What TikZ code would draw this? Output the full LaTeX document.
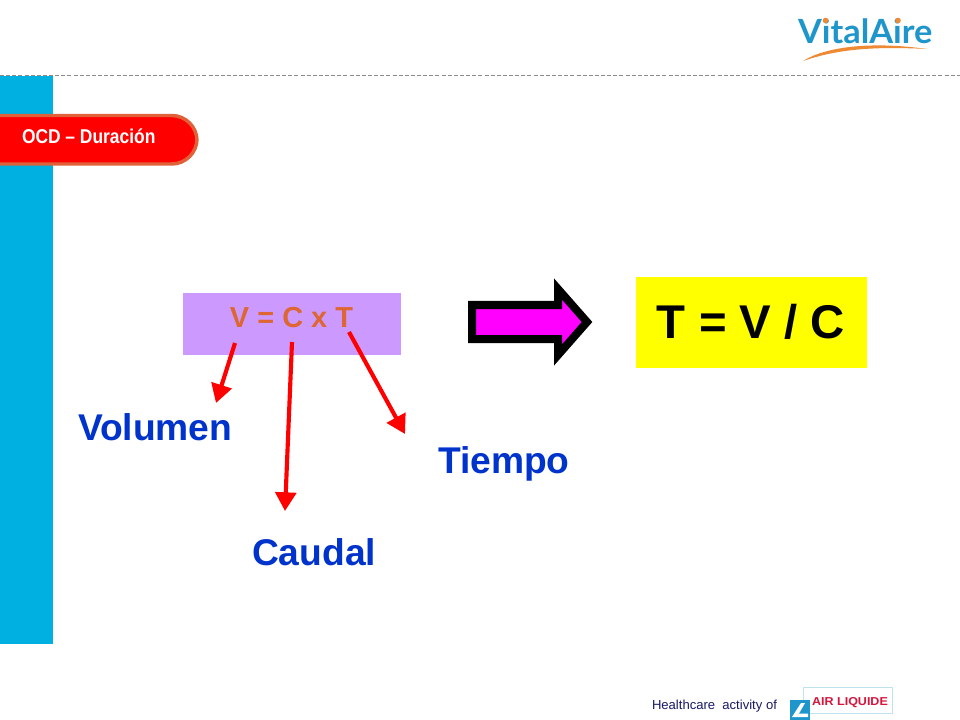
\documentclass[tikz,border=0pt]{standalone}
\usepackage{fontspec}
\setmainfont{Liberation Sans}
\newfontfamily\logofont{Lato}
\usetikzlibrary{arrows.meta}
\definecolor{band}{HTML}{00B0E0}
\definecolor{pillborder}{HTML}{E0603A}
\definecolor{lilac}{HTML}{CC99FF}
\definecolor{formula}{HTML}{DD6633}
\definecolor{labelblue}{HTML}{0033CC}
\definecolor{logoblue}{HTML}{1E96CC}
\definecolor{logoorange}{HTML}{EE8A33}
\definecolor{aircrimson}{HTML}{D4163C}
\definecolor{navytext}{HTML}{1A1A66}
\definecolor{pureyellow}{HTML}{FFFF00}
\definecolor{puremagenta}{HTML}{FF00FF}
\definecolor{purered}{HTML}{FF0000}
\definecolor{rulegray}{HTML}{8A8A8A}
\definecolor{airborder}{HTML}{BFE3EE}
\tikzset{
  x=0.75pt,y=-0.75pt,
  plain/.style={inner sep=0pt,outer sep=0pt},
  term/.style={plain,anchor=base west,text=labelblue,font=\fontsize{27.9pt}{30pt}\selectfont\bfseries},
  redarrow/.style={draw=purered,line width=3.1pt,-{Triangle[length=14pt,width=15.5pt,fill=purered]}},
}
\begin{document}
\begin{tikzpicture}
\useasboundingbox (0,0) rectangle (960,720);
\fill[white] (0,0) rectangle (960,720);
% side band and dashed rule
\fill[band] (0,76) rectangle (53,644);
\draw[rulegray,line width=0.6pt,dash pattern=on 3pt off 1.6pt] (0,75) -- (962,75);
% title pill
\begin{scope}
\clip (0,100) rectangle (220,180);
\draw[draw=pillborder,fill=purered,line width=2.6pt,rounded corners=19pt] (-40,115.5) -- (197,115.5) -- (197,164) -- (-40,164) -- cycle;
\end{scope}
\node[plain,anchor=base west,text=white] (title) at (22,144) {\scalebox{0.87}[1]{\fontsize{15pt}{18pt}\selectfont\bfseries OCD – Duración}};
% formula boxes
\fill[lilac] (183,293) rectangle (401,355);
\node[plain,anchor=base,text=formula,font=\fontsize{21.7pt}{24pt}\selectfont\bfseries] (vct) at (291.5,327) {V = C x T};
\fill[pureyellow] (636,277) rectangle (867,368);
\node[plain,anchor=base,text=black,font=\fontsize{35.5pt}{38pt}\selectfont\bfseries] (tvc) at (751,339) {T = V / C};
% block arrow
\draw[fill=puremagenta,draw=black,line width=6pt,miter limit=10] (472,305) -- (558,305) -- (558,289) -- (587,322) -- (558,355) -- (558,339) -- (472,339) -- cycle;
% terms
\node[term] (volumen) at (78,440) {Volumen};
\node[term] (tiempo) at (438,473) {Tiempo};
\node[term] (caudal) at (252,565) {Caudal};
% arrows
\coordinate (vs) at (235,343);
\coordinate (ve) at (216,403);
\coordinate (cs) at (292,342);
\coordinate (ce) at (285,511);
\coordinate (ts) at (349,332);
\coordinate (te) at (405,434);
\draw[redarrow] (vs) -- (ve);
\draw[redarrow] (cs) -- (ce);
\draw[redarrow] (ts) -- (te);
% VitalAire logo
\node[plain,anchor=base west,text=logoblue] (vital) at (798,44) {\scalebox{1.03}[1]{\fontsize{25pt}{28pt}\selectfont\logofont\bfseries VitalAire}};
\fill[logoorange] (825.5,20.5) circle[radius=2.8];
\fill[logoorange] (898,20.5) circle[radius=2.8];
\fill[logoorange] (803,61) .. controls (825,47) and (870,41) .. (927,49) .. controls (870,46) and (835,50) .. (803,61) -- cycle;
% footer
\node[plain,anchor=base west,text=navytext,font=\fontsize{9.8pt}{12pt}\selectfont] (hc) at (652,709) {Healthcare\ \ activity of};
\draw[draw=airborder,line width=0.7pt,fill=white] (803,687) rectangle (892,713);
\node[plain,anchor=base,text=aircrimson] (air) at (850,705) {\scalebox{1.09}[1]{\fontsize{8.6pt}{10pt}\selectfont\bfseries AIR LIQUIDE}};
\fill[logoblue] (790,700) rectangle (810,720);
\fill[white] (792,717) -- (801,703) -- (805,703) -- (797,717) -- cycle;
\fill[white] (799,713.5) -- (808,713.5) -- (808,717) -- (797,717) -- cycle;
\end{tikzpicture}
\end{document}
